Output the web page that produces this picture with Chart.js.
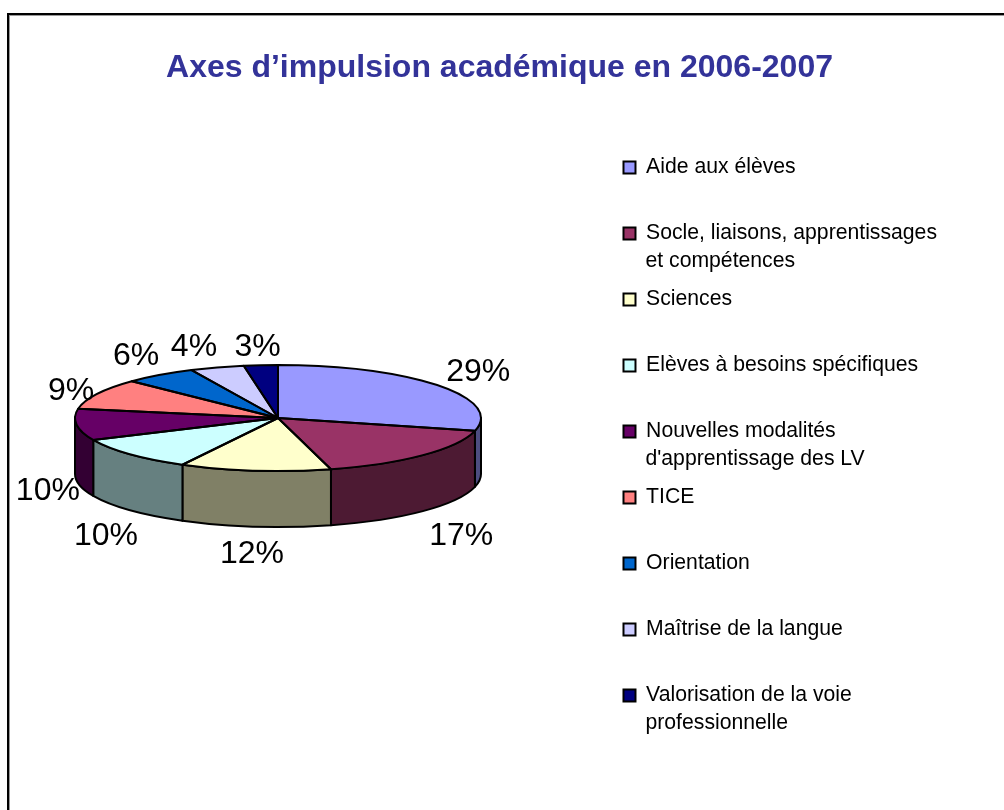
<!DOCTYPE html>
<html>
<head>
<meta charset="utf-8">
<title>Axes d'impulsion académique en 2006-2007</title>
<script src="https://cdn.jsdelivr.net/npm/chart.js@4"></script>
<style>
    html, body { margin: 0; padding: 0; background: #fff; }
    #wrap { width: 1004px; height: 810px; }
</style>
</head>
<body>
<div id="wrap"><canvas id="pie-chart" width="1004" height="810"></canvas></div>
<script>
var chartTitle = "Axes d’impulsion académique en 2006-2007";
var categories = ["Aide aux élèves", "Socle, liaisons, apprentissages", "Sciences", "Elèves à besoins spécifiques",
    "Nouvelles modalités", "TICE", "Orientation", "Maîtrise de la langue", "Valorisation de la voie"];
var secondLines = ["", "et compétences", "", "", "d'apprentissage des LV", "", "", "", "professionnelle"];
var shares = [28.9, 16.9, 12.0, 10.4, 9.6, 9.4, 5.8, 4.3, 2.7];
var shareLabels = ["29%", "17%", "12%", "10%", "10%", "9%", "6%", "4%", "3%"];
var topColors = ["#9999ff", "#993366", "#ffffcc", "#ccffff", "#660066", "#ff8080", "#0066cc", "#ccccff", "#000080"];
var sideColors = ["#4d4d80", "#4d1a33", "#808066", "#668080", "#330033", "#804040", "#003366", "#666680", "#000040"];

// how the flat pie is squashed into the tilted one
var tilt = { cx: 278, cy: 418, rx: 203, ry: 53, depth: 56 };
var labelRing = { rx: 240, ry: 76 };
var labelNudge = [[11, 1], [12, 9], [1, 5], [3, 10], [8, 8], [7, 8], [-2, 0], [-12, 2], [0, 5]];

function outline(ctx) {
    ctx.strokeStyle = "#000";
    ctx.lineWidth = 2;
    ctx.lineJoin = "round";
    ctx.stroke();
}

var framePlugin = {
    id: "frame",
    beforeDraw: function (chart) {
        var ctx = chart.ctx;
        ctx.save();
        ctx.fillStyle = "#999";
        ctx.fillRect(7, 15, 997, 1);
        ctx.fillRect(9, 13, 1, 797);
        ctx.fillStyle = "#000";
        ctx.fillRect(7, 13, 997, 2);
        ctx.fillRect(7, 13, 2, 797);
        ctx.restore();
    }
};

var tiltPlugin = {
    id: "tilt",
    beforeDatasetsDraw: function (chart) {
        var ctx = chart.ctx;
        var arcs = chart.getDatasetMeta(0).data;
        var first = arcs[0];

        // side wall, only the part of each slice facing the viewer
        ctx.save();
        arcs.forEach(function (arc, i) {
            var a = arc.startAngle, b = arc.endAngle;
            var ranges = [[a, b], [a - 2 * Math.PI, b - 2 * Math.PI]];
            ranges.forEach(function (r) {
                var from = Math.max(r[0], 0), to = Math.min(r[1], Math.PI);
                if (to <= from) return;
                ctx.beginPath();
                ctx.ellipse(tilt.cx, tilt.cy, tilt.rx, tilt.ry, 0, from, to);
                ctx.ellipse(tilt.cx, tilt.cy + tilt.depth, tilt.rx, tilt.ry, 0, to, from, true);
                ctx.closePath();
                ctx.fillStyle = sideColors[i];
                ctx.fill();
                outline(ctx);
            });
        });
        ctx.restore();

        ctx.save();
        ctx.translate(tilt.cx, tilt.cy);
        ctx.scale(tilt.rx / first.outerRadius, tilt.ry / first.outerRadius);
        ctx.translate(-first.x, -first.y);
    },
    afterDatasetsDraw: function (chart) {
        var ctx = chart.ctx;
        var arcs = chart.getDatasetMeta(0).data;
        ctx.restore();

        // strokes done without the squash so the line stays even
        ctx.save();
        arcs.forEach(function (arc) {
            ctx.beginPath();
            ctx.moveTo(tilt.cx, tilt.cy);
            ctx.ellipse(tilt.cx, tilt.cy, tilt.rx, tilt.ry, 0, arc.startAngle, arc.endAngle);
            ctx.closePath();
            outline(ctx);
        });

        ctx.fillStyle = "#000";
        ctx.font = "32px 'Liberation Sans', Arial, sans-serif";
        ctx.textAlign = "center";
        ctx.textBaseline = "middle";
        arcs.forEach(function (arc, i) {
            var mid = (arc.startAngle + arc.endAngle) / 2;
            var s = Math.sin(mid);
            var x = tilt.cx + Math.cos(mid) * labelRing.rx + labelNudge[i][0];
            var y = tilt.cy + s * labelRing.ry + (s > 0 ? tilt.depth : 0) + labelNudge[i][1];
            ctx.fillText(shareLabels[i], x, y);
        });
        ctx.restore();
    },
    afterDraw: function (chart) {
        // wrapped legend entries: second line sits under the first
        var ctx = chart.ctx;
        var boxes = chart.legend.legendHitBoxes;
        ctx.save();
        ctx.fillStyle = "#000";
        ctx.font = "21.2px 'Liberation Sans', Arial, sans-serif";
        ctx.textBaseline = "middle";
        ctx.textAlign = "left";
        secondLines.forEach(function (line, i) {
            if (!line) return;
            ctx.fillText(line, boxes[i].left + 22, boxes[i].top + boxes[i].height / 2 + 27.5);
        });
        ctx.restore();
    }
};

new Chart(document.getElementById("pie-chart"), {
    type: "pie",
    data: {
        labels: categories,
        datasets: [{
            data: shares,
            backgroundColor: topColors,
            borderWidth: 0,
            clip: false
        }]
    },
    plugins: [framePlugin, tiltPlugin],
    options: {
        responsive: false,
        animation: false,
        layout: { padding: { left: 52, right: 57, top: 49, bottom: 40 } },
        plugins: {
            tooltip: { enabled: false },
            title: {
                display: true,
                text: chartTitle,
                color: "#333399",
                font: { family: "'Liberation Sans', Arial, sans-serif", size: 32, weight: "bold" },
                padding: { top: 0, bottom: 24.7 }
            },
            legend: {
                position: "right",
                align: "start",
                fullSize: false,
                labels: {
                    color: "#000",
                    boxWidth: 12,
                    boxHeight: 12,
                    padding: 44.8,
                    font: { family: "'Liberation Sans', Arial, sans-serif", size: 21.2 },
                    generateLabels: function (chart) {
                        return categories.map(function (name, i) {
                            return {
                                text: name,
                                fillStyle: topColors[i],
                                strokeStyle: "#000",
                                lineWidth: 2,
                                index: i
                            };
                        });
                    }
                }
            }
        }
    }
});
</script>
</body>
</html>
